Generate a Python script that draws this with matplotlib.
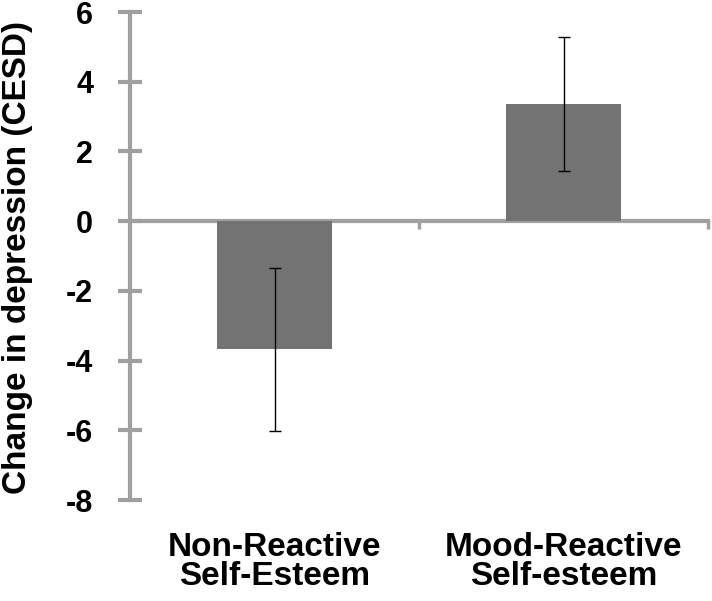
import numpy as np
import matplotlib
matplotlib.use("Agg")
import matplotlib.pyplot as plt
import matplotlib.transforms as mtransforms

# ------------------------------------------------------------
# Data
# ------------------------------------------------------------
categories = ["Non-Reactive\nSelf-Esteem", "Mood-Reactive\nSelf-esteem"]
means = [-3.68, 3.36]  # change in CESD
errors = [2.34, 1.93]  # +/- error bar half-width
y_ticks = [-8, -6, -4, -2, 0, 2, 4, 6]

BAR_COLOR = "#737373"
AXIS_COLOR = "#a0a0a0"
FONT = "Liberation Sans"

fig = plt.figure(figsize=(7.12, 6.01), dpi=100)
ax = fig.add_axes([130 / 712, 1 - 500 / 601, 578 / 712, 488 / 601])

x = np.arange(len(categories))
ax.bar(x, means, width=0.4, color=BAR_COLOR, zorder=2)
ax.errorbar(x, means, yerr=errors, fmt="none", ecolor="black",
            elinewidth=1.0, capsize=4, capthick=1.0, zorder=3)

ax.set_xlim(-0.5, len(categories) - 0.5)
ax.set_ylim(-8, 6)

# spines: left axis + x axis sitting on zero
for side in ["top", "right"]:
    ax.spines[side].set_visible(False)
ax.spines["left"].set_color(AXIS_COLOR)
ax.spines["left"].set_linewidth(3.0)
ax.spines["bottom"].set_position(("data", 0))
ax.spines["bottom"].set_color(AXIS_COLOR)
ax.spines["bottom"].set_linewidth(3.0)
ax.spines["bottom"].set_zorder(1)

ax.set_yticks(y_ticks)
ax.set_yticklabels([str(v) for v in y_ticks], fontfamily=FONT,
                   fontweight="bold", fontsize=22)
ax.tick_params(axis="y", direction="inout", length=17, width=3,
               color=AXIS_COLOR, pad=18)

# category separators on the zero line
ax.set_xticks([0.5, 1.5])
ax.set_xticklabels([])
ax.tick_params(axis="x", direction="out", length=6, width=2.5,
               color=AXIS_COLOR)

# category names below the plot
trans = mtransforms.blended_transform_factory(ax.transData, fig.transFigure)
for xi, name in zip(x, categories):
    ax.text(xi, 1 - 562 / 601, name, transform=trans, ha="center",
            va="center", fontfamily=FONT, fontweight="bold",
            fontsize=24, linespacing=0.92)

fig.text(18 / 712, 1 - 257 / 601, "Change in depression (CESD)",
         rotation=90, ha="center", va="center", fontfamily=FONT,
         fontweight="bold", fontsize=24)

fig.savefig("out.png", dpi=100)
